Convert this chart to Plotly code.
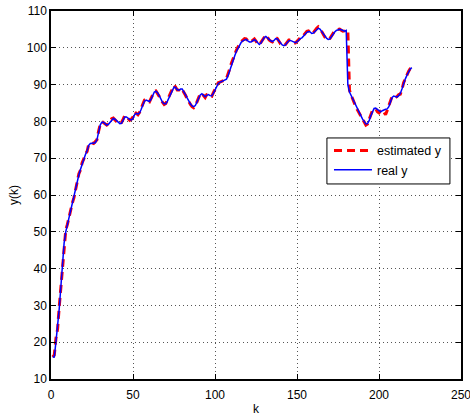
import plotly.graph_objects as go

k = list(range(1, 221))

real_y = [
    16, 16, 20, 24, 29, 35, 41, 47, 50, 52,
    54, 55.5, 57.5, 59.5, 61.5, 63.5, 65.5, 67, 68.5, 70,
    71, 72, 73.5, 74, 74, 74.2, 74.2, 75, 77, 79,
    79.8, 79.8, 79.4, 79, 79.2, 79.8, 80.5, 80.8, 80.6, 80.2,
    79.7, 79.4, 79.5, 80.3, 81.2, 81.2, 80.8, 80.5, 80.4, 80.8,
    81.8, 82.2, 82, 82.3, 83.3, 84.5, 85.5, 85.8, 85.5, 85.4,
    86, 87, 88, 88.2, 87.8, 87, 86, 85.2, 84.8, 84.8,
    85.5, 86.5, 87.5, 88.6, 89.3, 89.2, 88.6, 88.5, 88.8, 88.8,
    88.2, 87.3, 86.4, 85.5, 84.8, 84.2, 84, 84.3, 85.2, 86.3,
    87.2, 87.5, 87, 86.7, 87.1, 87.3, 87, 86.9, 87.6, 88.6,
    89.6, 90.3, 90.6, 90.8, 91, 91.1, 91.5, 92.5, 94, 95.5,
    96.8, 97.8, 99, 100, 100.9, 101.5, 101.9, 102.2, 102.3, 101.9,
    101.6, 101.6, 101.9, 102.2, 101.9, 101.3, 100.9, 101.3, 102.1, 102.8,
    103.1, 102.8, 102.3, 101.9, 101.7, 102, 102.5, 102.4, 101.8, 101.2,
    100.8, 100.6, 100.8, 101.4, 101.9, 102, 101.8, 101.5, 101.4, 101.6,
    102.1, 102.5, 102.7, 103.1, 103.7, 104.2, 104.4, 104.3, 103.9, 104,
    104.5, 105, 105.3, 105.1, 104.5, 103.8, 103.1, 102.6, 102.3, 102.4,
    103, 103.7, 104.3, 104.7, 104.9, 105, 104.9, 104.6, 104.5, 104.7,
    90, 88, 87, 86, 85, 84, 83.2, 82.4, 81.5, 80.6,
    79.8, 79.3, 79.4, 80.2, 81.5, 82.8, 83.5, 83.6, 83.3, 82.8,
    82.6, 82.9, 83.2, 83.3, 83.4, 84, 85.3, 86.5, 86.9, 86.7,
    86.6, 87, 87.6, 88.8, 90.3, 91.5, 92.5, 93.4, 94.2, 94.6,
]

est_y = [
    16, 16.5, 21, 23.5, 29.5, 35, 41.5, 46.5, 50.5, 52,
    54.2, 55.5, 57.8, 59.3, 61.8, 63.3, 65.8, 66.8, 68.8, 69.8,
    71.3, 71.8, 73.8, 74, 74.2, 74, 74.4, 75, 77.3, 79.2,
    80, 79.6, 79.2, 79, 79.4, 80, 80.7, 80.9, 80.4, 80,
    79.5, 79.3, 79.7, 80.6, 81.6, 81.2, 80.6, 80.3, 80.6, 81.2,
    82.6, 82.2, 81.8, 82.5, 83.6, 84.8, 85.8, 86, 85.4, 85.3,
    86.2, 87.3, 88.2, 88.3, 87.6, 86.8, 85.8, 85, 84.6, 84.9,
    85.7, 86.8, 87.8, 89, 89.8, 89.3, 88.5, 88.5, 89, 88.7,
    88, 87.1, 86.2, 85.3, 84.6, 84, 83.7, 84.2, 85.3, 86.5,
    87.5, 87.6, 86.9, 86.5, 87.3, 87.4, 86.8, 86.8, 87.8, 88.8,
    89.8, 90.5, 90.7, 90.8, 91.1, 91.2, 91.7, 92.8, 94.3, 95.8,
    97.1, 98, 99.3, 100.2, 101.1, 101.7, 102.1, 102.5, 102.4, 101.8,
    101.5, 101.7, 102.1, 102.4, 101.8, 101.1, 100.8, 101.5, 102.4, 103.1,
    103.5, 102.9, 102.1, 101.8, 101.6, 102.1, 102.8, 102.5, 101.6, 101,
    100.6, 100.5, 100.9, 101.6, 102.1, 102.1, 101.7, 101.3, 101.3, 101.7,
    102.3, 102.7, 102.8, 103.3, 104, 104.5, 104.6, 104.3, 103.8, 104.1,
    104.8, 105.3, 105.7, 105.3, 104.5, 103.6, 102.9, 102.4, 102.2, 102.5,
    103.2, 104, 104.6, 104.9, 105.1, 105.1, 104.8, 104.5, 104.6, 104.9,
    104.6, 88.5, 87.2, 86, 84.8, 83.8, 83, 82.2, 81.3, 80.4,
    79.6, 79, 79.3, 80.4, 81.8, 83, 83.3, 83.4, 82.6, 82.3,
    82.9, 83.2, 82.5, 81.8, 83, 84.2, 85.6, 86.8, 86.8, 86.5,
    86.8, 87.3, 87.4, 88.6, 90.5, 91.7, 92.7, 93.6, 94.3, 94.5,
]

x_ticks = [0, 50, 100, 150, 200, 250]
y_ticks = [10, 20, 30, 40, 50, 60, 70, 80, 90, 100, 110]

FONT = "Liberation Sans, Arial, sans-serif"

fig = go.Figure()
fig.add_trace(go.Scatter(
    x=k, y=est_y, mode="lines", name="estimated y",
    line=dict(color="#ff0000", width=3, dash="8px,5px"),
))
fig.add_trace(go.Scatter(
    x=k, y=real_y, mode="lines", name="real y",
    line=dict(color="#0000ff", width=1.5),
))

axis_common = dict(
    showline=True, linecolor="black", linewidth=1.5, mirror="ticks",
    ticks="inside", ticklen=5, tickcolor="black", tickwidth=1,
    showgrid=True, gridcolor="#555555", gridwidth=1, griddash="1px,3px",
    zeroline=False, automargin=False, ticklabeloverflow="allow",
    tickfont=dict(family=FONT, size=12, color="black"),
)

fig.update_xaxes(range=[0, 250], tickvals=x_ticks, ticktext=[str(v) for v in x_ticks],
                 ticklabelstandoff=4,
                 title=dict(text="k", font=dict(family=FONT, size=12, color="black"), standoff=4),
                 **axis_common)
fig.update_yaxes(range=[10, 110], tickvals=y_ticks, ticktext=[str(v) for v in y_ticks],
                 title=dict(text="y(k)", font=dict(family=FONT, size=12, color="black"), standoff=6),
                 **axis_common)

# legend frame (MATLAB-style box)
fig.add_shape(type="rect", xref="paper", yref="paper",
              x0=0.673, x1=0.973, y0=0.530, y1=0.655,
              line=dict(color="black", width=1), fillcolor="white", layer="above")

fig.update_layout(
    width=470, height=416,
    margin=dict(l=51, r=9, t=11, b=37),
    paper_bgcolor="white", plot_bgcolor="white",
    font=dict(family=FONT, size=12, color="black"),
    legend=dict(
        x=0.678, y=0.661, xanchor="left", yanchor="top",
        bgcolor="rgba(0,0,0,0)", borderwidth=0,
        font=dict(family=FONT, size=12.5, color="black"),
        tracegroupgap=0, itemwidth=38,
    ),
)

fig.write_html("out.html", config={"displayModeBar": False},
               post_script="document.body.style.margin='0';document.body.style.overflow='hidden';")
